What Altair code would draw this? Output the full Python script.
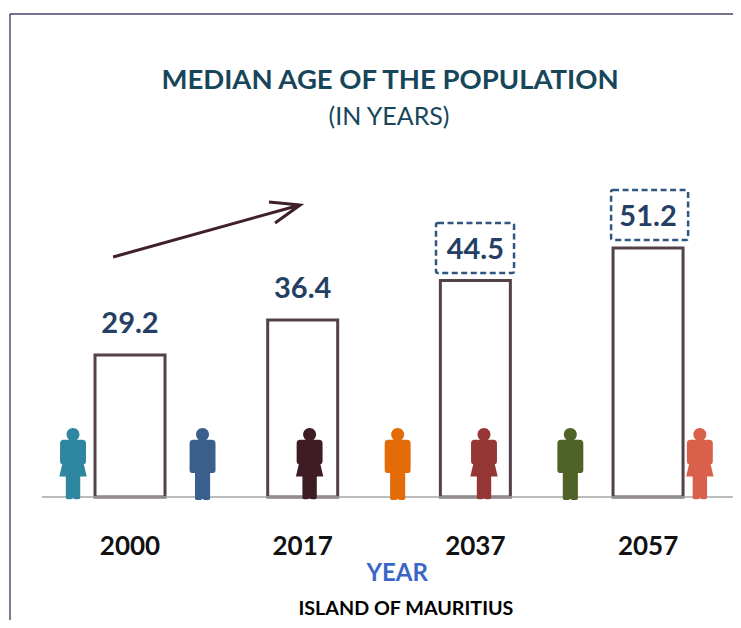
import altair as alt
import pandas as pd

# Units: x = slot (one slot per bar, 1..4), y = years
years = ["2000", "2017", "2037", "2057"]
slots = [1, 2, 3, 4]
median_age = [29.2, 36.4, 44.5, 51.2]
label_colors = "#243f63"

box_x = [2.772, 3.786]
box_x2 = [3.224, 4.232]
box_y = [46.04, 52.83]
box_y2 = [56.32, 63.1]

person_x = [0.67, 1.42, 2.04, 2.55, 3.05, 3.55, 4.30]
person_kind = ["f", "m", "f", "m", "f", "m", "f"]
person_color = ["#2e86a0", "#3a5f8c", "#3e1c24", "#e36c09", "#953735", "#4f6228", "#d9604a"]

arrow_x = [0.902, 1.985, 1.805, 1.985, 1.840]
arrow_y = [49.33, 60.02, 60.64, 60.02, 56.32]
arrow_order = [0, 1, 2, 3, 4]

XD = [0.2934, 4.492]
YD = [-25.28, 100.51]
W, H = 725, 612

x = lambda f: alt.X(f, type="quantitative", scale=alt.Scale(domain=XD, nice=False, zero=False, padding=0), axis=None)
y = lambda f: alt.Y(f, type="quantitative", scale=alt.Scale(domain=YD, nice=False, zero=False), axis=None)

HEAD = "M0,-1 C0.1,-1 0.18,-0.92 0.18,-0.82 C0.18,-0.72 0.1,-0.64 0,-0.64 C-0.1,-0.64 -0.18,-0.72 -0.18,-0.82 C-0.18,-0.92 -0.1,-1 0,-1 Z "
MALE = HEAD + ("M-0.26,-0.67 L0.26,-0.67 Q0.36,-0.67 0.36,-0.57 L0.36,0.19 Q0.36,0.25 0.3,0.25 L0.21,0.25 "
               "L0.21,0.97 Q0.21,1 0.16,1 L0.06,1 Q0.01,1 0,0.97 Q-0.01,1 -0.06,1 L-0.16,1 Q-0.21,1 -0.21,0.97 "
               "L-0.21,0.25 L-0.3,0.25 Q-0.36,0.25 -0.36,0.19 L-0.36,-0.57 Q-0.36,-0.67 -0.26,-0.67 Z")
FEMALE = HEAD + ("M-0.26,-0.67 L0.26,-0.67 Q0.36,-0.67 0.36,-0.57 L0.36,-0.07 Q0.36,0 0.3,0.01 L0.38,0.35 "
                 "L0.2,0.35 L0.2,0.95 Q0.2,0.98 0.15,0.98 L0.06,0.98 Q0.01,0.98 0,0.95 Q-0.01,0.98 -0.06,0.98 "
                 "L-0.15,0.98 Q-0.2,0.98 -0.2,0.95 L-0.2,0.35 L-0.38,0.35 L-0.3,0.01 Q-0.36,0 -0.36,-0.07 "
                 "L-0.36,-0.57 Q-0.36,-0.67 -0.26,-0.67 Z")

bars_df = pd.DataFrame({"slot": slots, "age": median_age, "year": years, "zero": [0] * 4, "ly": [-10.3] * 4})
boxes_df = pd.DataFrame({"x": box_x, "x2": box_x2, "y": box_y, "y2": box_y2})
people_df = pd.DataFrame({"x": person_x, "kind": person_kind, "color": person_color, "y": [6.8] * 7})
arrow_df = pd.DataFrame({"x": arrow_x, "y": arrow_y, "o": arrow_order})

frame_left = alt.Chart(pd.DataFrame({"x": [0.305], "y": [99.28], "y2": [-25.28]})).mark_rule(
    color="#4a4068", strokeWidth=1.4).encode(x=x("x"), y=y("y"), y2="y2")
frame_top = alt.Chart(pd.DataFrame({"x": [0.305], "x2": [4.492], "y": [99.28]})).mark_rule(
    color="#4a4068", strokeWidth=1.4).encode(x=x("x"), x2="x2", y=y("y"))
baseline = alt.Chart(pd.DataFrame({"x": [0.49], "x2": [4.492], "y": [0]})).mark_rule(
    color="#a6a6a6", strokeWidth=1.5).encode(x=x("x"), x2="x2", y=y("y"))

bars = alt.Chart(bars_df).mark_bar(size=70, fill="white", stroke="#54424a", strokeWidth=3).encode(
    x=x("slot"), y=y("age"), y2="zero")
boxes = alt.Chart(boxes_df).mark_rect(fillOpacity=0, stroke="#2f5680", strokeWidth=2.5,
                                      strokeDash=[6, 3.5], cornerRadius=2).encode(
    x=x("x"), x2="x2", y=y("y"), y2="y2")
values = alt.Chart(bars_df).mark_text(font="Lato", fontSize=29, fontWeight="bold", color=label_colors,
                                      baseline="middle", dy=-30.5).encode(
    x=x("slot"), y=y("age"), text=alt.Text("age:Q", format=".1f"))
year_text = alt.Chart(bars_df).mark_text(font="Lato", fontSize=26, fontWeight="bold", color="#111111",
                                         baseline="middle").encode(x=x("slot"), y=y("ly"), text="year:N")

def people(kind, path):
    return alt.Chart(people_df[people_df.kind == kind]).mark_point(
        shape=path, filled=True, size=5184, opacity=1, strokeWidth=0).encode(
        x=x("x"), y=y("y"), color=alt.Color("color:N", scale=None))

arrow = alt.Chart(arrow_df).mark_line(color="#3f1f28", strokeWidth=3, strokeJoin="miter").encode(
    x=x("x"), y=y("y"), order="o:Q")

def label(text, sx, sy, size, color, weight="normal"):
    return alt.Chart(pd.DataFrame({"x": [sx], "y": [sy], "t": [text]})).mark_text(
        font="Lato", fontSize=size, fontWeight=weight, color=color, baseline="middle").encode(
        x=x("x"), y=y("y"), text="t:N")

title = label("MEDIAN AGE OF THE POPULATION", 2.506, 85.6, 27.5, "#17465a", "bold")
subtitle = label("(IN YEARS)", 2.5, 78.2, 25, "#17465a")
xtitle = label("YEAR", 2.547, -15.8, 24, "#3a66c8", "bold")
source = label("ISLAND OF MAURITIUS", 2.598, -23.1, 19.7, "#000000", "bold")

chart = alt.layer(frame_left, frame_top, bars, baseline, boxes, arrow,
                  people("f", FEMALE), people("m", MALE),
                  values, year_text, title, subtitle, xtitle, source).properties(
    width=W, height=H, padding=0, autosize=alt.AutoSizeParams(type="none")
).configure_view(stroke=None)

chart.save("out.html", embed_options={"renderer": "svg", "actions": False})
